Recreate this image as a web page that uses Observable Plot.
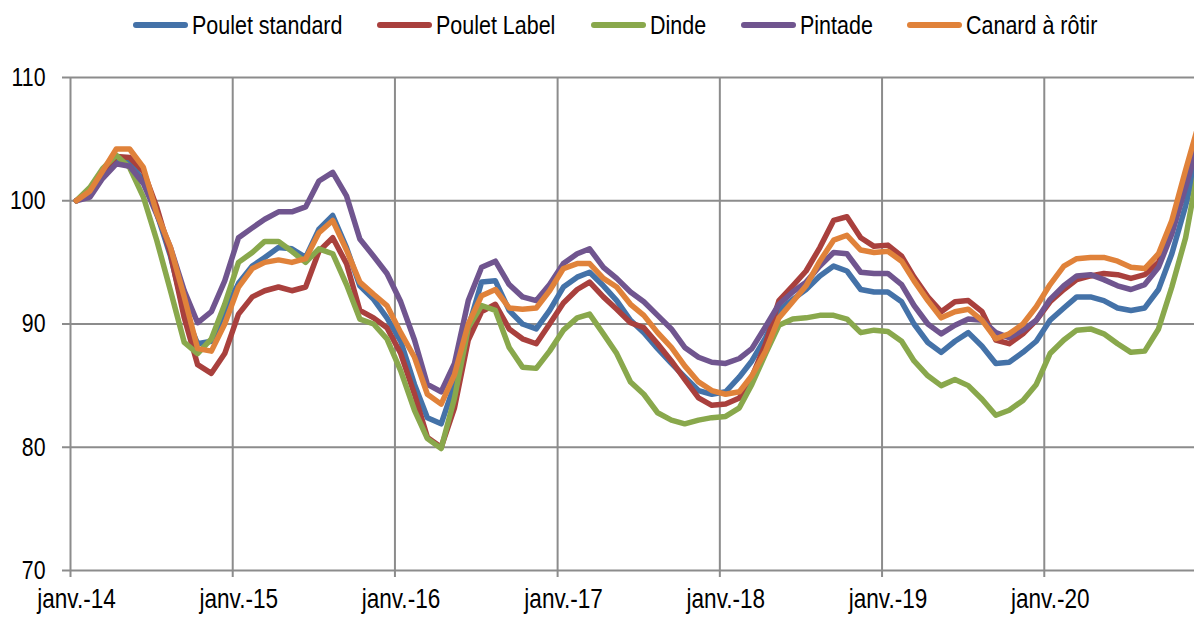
<!DOCTYPE html>
<html>
<head>
<meta charset="utf-8">
<script src="https://cdn.jsdelivr.net/npm/d3@7"></script>
<script src="https://cdn.jsdelivr.net/npm/@observablehq/plot@0.6"></script>
<style>
  html, body { margin: 0; padding: 0; background: #fff; }
  body { font-family: "Liberation Sans", Arial, sans-serif; width: 1194px; height: 617px; overflow: hidden; }
  #legend { height: 50px; display: flex; align-items: center; padding-left: 133px; font-size: 26.2px; color: #000; box-sizing: border-box; white-space: nowrap; }
  .item { display: flex; align-items: center; margin-right: 35px; }
  .sw { width: 55px; height: 6px; border-radius: 3px; margin-right: 4px; flex: none; }
  .lblwrap { display: inline-block; overflow: visible; }
  .lbl { display: inline-block; transform: scaleX(0.82); transform-origin: left center; }
</style>
</head>
<body>
<div id="legend"></div>
<div id="chart"></div>
<script>
// ---- data (monthly index, base 100 = janv. 2014) ----
const seriesNames = ["Poulet standard", "Poulet Label", "Dinde", "Pintade", "Canard à rôtir"];
const seriesColors = ["#4472A8", "#A9403D", "#89A84C", "#70558F", "#E0823A"];
const startYear = 2014;
const xTickLabels = ["janv.-14", "janv.-15", "janv.-16", "janv.-17", "janv.-18", "janv.-19", "janv.-20"];
const yTicks = [70, 80, 90, 100, 110];

const pouletStandard = [
  100, 100.8, 102.4, 103.4, 103.2, 101.6, 99.0, 95.5, 91.0, 88.4, 88.6, 91.0,
  93.3, 94.7, 95.4, 96.2, 96.1, 95.4, 97.7, 98.8, 96.2, 93.1, 92.0, 90.5,
  88.6, 85.1, 82.4, 81.9, 85.1, 89.7, 93.4, 93.5, 91.1, 90.0, 89.6, 91.1,
  93.0, 93.8, 94.2, 93.1, 91.9, 90.3, 89.3, 88.0, 86.8, 85.7, 84.6, 84.3,
  84.5, 85.7, 87.0, 88.9, 91.1, 92.0, 92.8, 93.9, 94.7, 94.3, 92.8, 92.6,
  92.6, 91.8, 90.0, 88.5, 87.7, 88.6, 89.3, 88.2, 86.8, 86.9, 87.7, 88.6,
  90.3, 91.3, 92.2, 92.2, 91.9, 91.3, 91.1, 91.3, 92.8, 95.7, 99.6, 104.0
];
const pouletLabel = [
  100, 100.8, 102.3, 103.6, 103.5, 102.4, 99.5, 95.7, 90.5, 86.7, 86.0, 87.6,
  90.8, 92.2, 92.7, 93.0, 92.7, 93.0, 95.9, 97.0, 94.9, 91.1, 90.5, 89.7,
  87.6, 84.3, 80.8, 80.0, 83.2, 88.7, 91.0, 91.6, 89.6, 88.8, 88.4, 90.0,
  91.7, 92.8, 93.4, 92.2, 91.2, 90.1, 89.7, 88.4, 87.0, 85.5, 84.0, 83.4,
  83.5, 84.0, 85.7, 88.4, 91.9, 93.1, 94.3, 96.2, 98.4, 98.7, 97.0, 96.3,
  96.4, 95.5, 93.8, 92.2, 91.0, 91.8, 91.9, 91.0, 88.7, 88.4, 89.2, 90.3,
  91.8, 92.8, 93.6, 93.9, 94.1, 94.0, 93.7, 94.0, 95.0, 97.8, 101.6, 105.2
];
const dinde = [
  100, 101.1, 102.6, 103.7, 102.7, 100.3, 96.8, 92.7, 88.5, 87.6, 88.8, 91.6,
  95.0, 95.8, 96.7, 96.7, 95.9, 95.0, 96.1, 95.7, 93.2, 90.4, 90.0, 88.8,
  86.2, 83.0, 80.7, 79.9, 84.0, 89.7, 91.5, 91.1, 88.1, 86.5, 86.4, 87.8,
  89.5, 90.5, 90.8, 89.2, 87.6, 85.3, 84.3, 82.8, 82.2, 81.9, 82.2, 82.4,
  82.5, 83.2, 85.1, 87.6, 89.9, 90.4, 90.5, 90.7, 90.7, 90.4, 89.3, 89.5,
  89.4, 88.6, 87.0, 85.8, 85.0, 85.5, 85.0, 83.9, 82.6, 83.0, 83.8, 85.1,
  87.6, 88.7, 89.5, 89.6, 89.2, 88.4, 87.7, 87.8, 89.6, 93.0, 97.0, 102.9
];
const pintade = [
  100, 100.3, 101.8, 103.0, 102.8, 101.4, 98.9, 96.2, 92.7, 90.1, 91.0, 93.5,
  97.0, 97.8, 98.5, 99.1, 99.1, 99.5, 101.6, 102.3, 100.4, 96.9, 95.5, 94.1,
  91.8, 88.7, 85.1, 84.5, 86.8, 91.9, 94.6, 95.1, 93.2, 92.2, 91.9, 93.2,
  94.9, 95.7, 96.1, 94.6, 93.7, 92.6, 91.8, 90.7, 89.6, 88.1, 87.3, 86.9,
  86.8, 87.2, 88.0, 89.8, 91.6, 92.6, 93.4, 94.7, 95.8, 95.7, 94.2, 94.1,
  94.1, 93.2, 91.5, 90.0, 89.2, 89.9, 90.4, 90.3, 89.3, 88.9, 89.5, 90.3,
  92.0, 93.1, 93.9, 94.0, 93.6, 93.1, 92.8, 93.2, 94.6, 97.3, 101.1, 104.8
];
const canardARotir = [
  100, 100.8, 102.4, 104.2, 104.2, 102.7, 99.0, 96.2, 92.2, 88.0, 87.8, 90.0,
  93.0, 94.5, 95.0, 95.2, 95.0, 95.3, 97.4, 98.4, 96.0, 93.4, 92.4, 91.5,
  89.3, 87.3, 84.3, 83.5, 85.9, 90.0, 92.3, 92.8, 91.3, 91.2, 91.3, 92.7,
  94.5, 94.9, 94.9, 93.7, 93.0, 91.6, 90.7, 89.3, 88.1, 86.6, 85.3, 84.6,
  84.3, 84.5, 85.8, 87.8, 90.5, 91.8, 93.1, 95.1, 96.8, 97.2, 96.0, 95.8,
  95.9, 95.1, 93.5, 91.9, 90.5, 91.0, 91.2, 90.3, 88.8, 89.2, 90.0, 91.4,
  93.2, 94.7, 95.3, 95.4, 95.4, 95.1, 94.6, 94.5, 95.7, 98.4, 102.5, 106.3
];

// ---- build table ----
const seriesValues = [pouletStandard, pouletLabel, dinde, pintade, canardARotir];
const rows = [];
seriesValues.forEach((vals, s) => {
  vals.forEach((v, i) => {
    rows.push({series: seriesNames[s], date: new Date(Date.UTC(startYear, i, 14)), value: v});
  });
});
const yearTicks = xTickLabels.map((_, k) => new Date(Date.UTC(startYear + k, 0, 1)));
const NARROW = 0.82; // emulate a narrow sans face

// ---- legend ----
const legend = document.getElementById("legend");
seriesNames.forEach((name, s) => {
  const item = document.createElement("div");
  item.className = "item";
  const sw = document.createElement("span");
  sw.className = "sw";
  sw.style.background = seriesColors[s];
  const wrap = document.createElement("span");
  wrap.className = "lblwrap";
  const label = document.createElement("span");
  label.className = "lbl";
  label.textContent = name;
  wrap.appendChild(label);
  item.appendChild(sw);
  item.appendChild(wrap);
  legend.appendChild(item);
  wrap.style.width = (label.offsetWidth * NARROW) + "px";
});

// ---- chart ----
const gridColor = "#8c8c8c";
const chart = Plot.plot({
  width: 1194,
  height: 567,
  marginTop: 27,
  marginBottom: 47,
  marginLeft: 70,
  marginRight: 0,
  style: {fontFamily: '"Liberation Sans", Arial, sans-serif', fontSize: "26px", color: "#000", background: "#fff"},
  x: {type: "utc", domain: [new Date(Date.UTC(2014, 0, 1)), new Date(Date.UTC(2020, 11, 4))]},
  y: {domain: [70, 110]},
  color: {domain: seriesNames, range: seriesColors},
  marks: [
    Plot.ruleY(yTicks, {stroke: gridColor, strokeWidth: 2, insetLeft: -8}),
    Plot.ruleX(yearTicks, {stroke: gridColor, strokeWidth: 2, insetBottom: -7}),
    Plot.axisY(yTicks, {tickSize: 0, tickPadding: 25, fontSize: 26, fill: "#000", label: null}),
    Plot.axisX(yearTicks, {tickSize: 0, tickPadding: 18, fontSize: 27.5, dx: 6, fill: "#000", label: null,
      tickFormat: d => xTickLabels[d.getUTCFullYear() - startYear]}),
    Plot.line(rows, {x: "date", y: "value", z: "series", stroke: "series", strokeWidth: 5.5,
      strokeLinejoin: "round", strokeLinecap: "round", clip: true})
  ]
});
document.getElementById("chart").appendChild(chart);
// narrow the axis labels to match the condensed face of the original
chart.querySelectorAll("text").forEach(t => {
  const w = t.getComputedTextLength();
  if (w > 0) {
    t.setAttribute("textLength", (w * NARROW).toFixed(1));
    t.setAttribute("lengthAdjust", "spacingAndGlyphs");
  }
});
</script>
</body>
</html>
